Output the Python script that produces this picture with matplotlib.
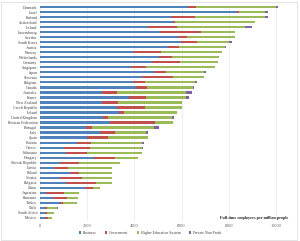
import numpy as np
import matplotlib
matplotlib.use("Agg")
import matplotlib.pyplot as plt
from matplotlib.patches import Rectangle

countries = ["Denmark", "Israel", "Finland", "Switzerland", "Iceland", "Luxembourg",
             "Sweden", "South Korea", "Austria", "Norway", "Netherlands", "Germany",
             "Singapore", "Japan", "Slovenia", "Belgium", "Canada", "Australia",
             "France", "New Zealand", "Czech Republic", "Ireland", "United Kingdom",
             "Russian Federation", "Portugal", "Italy", "Spain", "Estonia", "Greece",
             "Lithuania", "Hungary", "Slovak Republic", "Latvia", "Poland", "Croatia",
             "Bulgaria", "China", "Argentina", "Romania", "Turkey", "Chile",
             "South Africa", "Mexico"]

business = [6270, 8360, 5565, 5636, 4576, 5071, 5847, 5989, 5424, 3941, 5028, 4760,
            3870, 4830, 4336, 3941, 4082, 2627, 3757, 2627, 3277, 3333, 2669, 2952,
            1935, 2556, 2006, 1582, 1017, 1116, 2288, 840, 580, 1265, 860, 1090,
            1900, 254, 565, 847, 212, 212, 212]
government = [320, 85, 1017, 98, 1243, 1737, 396, 649, 452, 1200, 565, 1186,
              636, 495, 1300, 522, 466, 636, 749, 678, 1186, 226, 212, 1907,
              268, 636, 875, 593, 1116, 876, 876, 805, 625, 390, 910, 1270,
              360, 763, 565, 113, 70, 70, 113]
higher_ed = [3430, 1102, 2966, 3362, 2882, 1441, 2006, 1370, 1949, 2585, 1992, 1596,
             2895, 1624, 1299, 2119, 1935, 2938, 1695, 2712, 1568, 2260, 2712, 777,
             2628, 1285, 1695, 2161, 2203, 2330, 989, 1740, 1860, 1405, 1280, 680,
             282, 636, 494, 594, 452, 311, 169]
private_np = [70, 113, 113, 28, 282, 0, 0, 128, 42, 0, 0, 0,
              0, 99, 0, 56, 28, 240, 99, 0, 0, 0, 85, 0,
              197, 99, 0, 57, 42, 0, 0, 0, 0, 0, 0, 0,
              0, 0, 0, 0, 43, 0, 0]

series = ["Business", "Government", "Higher Education System", "Private Non-Profit"]
colors = ["#4F81BD", "#C0504D", "#9BBB59", "#8064A2"]
xticks = [0, 2000, 4000, 6000, 8000, 10000]

plt.rcParams["font.family"] = ["Liberation Serif", "DejaVu Serif"]

fig = plt.figure(figsize=(3.0, 2.41), dpi=100)
ax = fig.add_axes([40 / 300, 1 - 220.2 / 241, 253 / 300, 215.4 / 241])

y = np.arange(len(countries))
left = np.zeros(len(countries))
for vals, name, c in zip([business, government, higher_ed, private_np], series, colors):
    vals = np.array(vals, dtype=float)
    ax.barh(y, vals, left=left, height=0.42, color=c, label=name, zorder=3)
    left += vals

ax.set_ylim(len(countries) - 0.5, -0.5)
ax.set_xlim(0, 10720)
ax.set_yticks(y)
ax.set_yticklabels(countries, fontsize=2.8, color="#404040")
ax.set_xticks(xticks)
ax.set_xticklabels([str(t) for t in xticks], fontsize=3.2, color="#595959")
ax.tick_params(length=0, pad=2)
ax.tick_params(axis="x", pad=2.5)
ax.grid(axis="x", color="#e6e6e6", linewidth=0.5, zorder=0)
for s in ax.spines.values():
    s.set_visible(False)

fig.text(288 / 300, 1 - 218 / 241, "Full-time employees per million people",
         ha="right", va="center", fontsize=3.1, fontweight="bold", color="#262626")

leg = fig.legend(loc="center", bbox_to_anchor=(150 / 300, 1 - 233 / 241), ncol=4,
                 frameon=False, fontsize=2.8, handlelength=0.6, handleheight=0.6,
                 handletextpad=0.4, columnspacing=2.2, labelcolor="#404040")

fig.patches.append(Rectangle((1 / 300, 1.5 / 241), 296 / 300, 237.5 / 241,
                             transform=fig.transFigure, fill=False,
                             edgecolor="#d9d9d9", linewidth=0.5))

fig.savefig("out.png", dpi=100)
